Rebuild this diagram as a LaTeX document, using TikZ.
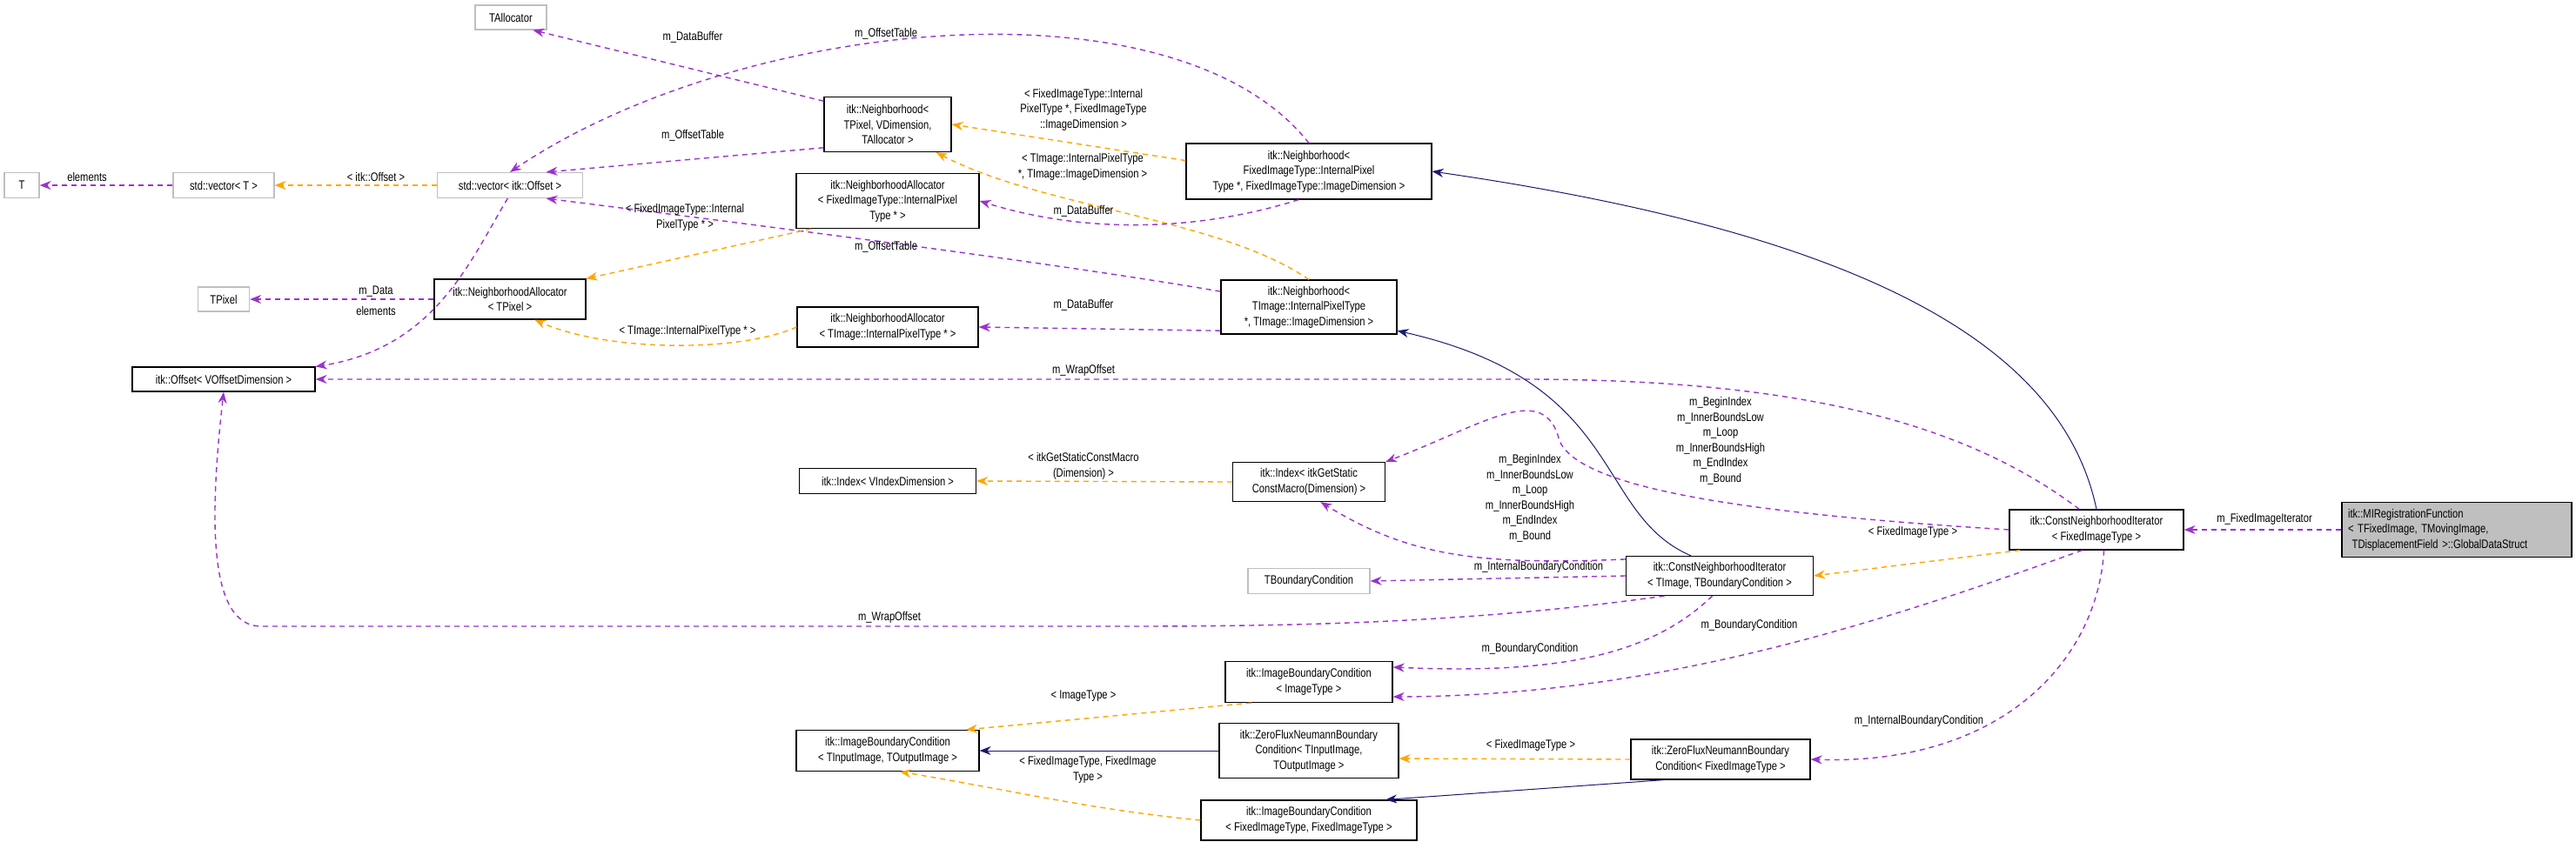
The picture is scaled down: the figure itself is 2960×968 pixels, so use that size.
\documentclass[tikz,border=0pt]{standalone}
\usepackage{fontspec}
\setmainfont{Liberation Sans}[FakeStretch=0.8]
\usetikzlibrary{arrows.meta}
\definecolor{memb}{HTML}{9A32CD}
\definecolor{tmpl}{HTML}{FFA500}
\definecolor{inh}{HTML}{191970}
\tikzset{
  cls/.style={draw=black, line width=1.2pt, align=center, inner sep=0pt, font=\fontsize{14}{17.5}\selectfont},
  ext/.style={cls, draw=black!25},
  top/.style={cls, fill=black!25, align=left},
  lbl/.style={align=center, inner sep=0pt, font=\fontsize{14}{17.5}\selectfont},
  tip/.style={-{Stealth[length=13pt,width=10pt]}},
  member/.style={tip, memb, dashed, dash pattern=on 6pt off 5pt, line width=1.4pt},
  templ/.style={tip, tmpl, dashed, dash pattern=on 6pt off 5pt, line width=1.4pt},
  inherit/.style={tip, inh, line width=1pt},
}
\begin{document}
\begin{tikzpicture}[x=1pt,y=-1pt]
\useasboundingbox (0,0) rectangle (2960,968);

% boxes, left column
\node[ext, minimum width=82pt, minimum height=28pt] (talloc) at (587,20) {TAllocator};
\node[ext, minimum width=40pt, minimum height=29pt] (t) at (25,213) {T};
\node[ext, minimum width=116pt, minimum height=29pt] (vect) at (257,213) {std::vector< T >};
\node[ext, minimum width=167pt, minimum height=29pt] (vecoff) at (586,213) {std::vector< itk::Offset >};
\node[ext, minimum width=59pt, minimum height=28pt] (tpixel) at (257,344) {TPixel};
\node[cls, minimum width=174pt, minimum height=46pt] (natp) at (586,344) {itk::NeighborhoodAllocator\\< TPixel >};
\node[cls, minimum width=210pt, minimum height=28pt] (off) at (257,436) {itk::Offset< VOffsetDimension >};

% boxes, middle columns
\node[cls, minimum width=146pt, minimum height=63pt] (nbtp) at (1020,143) {itk::Neighborhood<\\TPixel, VDimension,\\TAllocator >};
\node[cls, minimum width=210pt, minimum height=63pt] (naf) at (1020,231) {itk::NeighborhoodAllocator\\< FixedImageType::InternalPixel\\Type * >};
\node[cls, minimum width=208pt, minimum height=46pt] (nat) at (1020,376) {itk::NeighborhoodAllocator\\< TImage::InternalPixelType * >};
\node[cls, minimum width=203pt, minimum height=29pt] (idxv) at (1020,553) {itk::Index< VIndexDimension >};
\node[cls, minimum width=210pt, minimum height=47pt] (ibct) at (1020,863) {itk::ImageBoundaryCondition\\< TInputImage, TOutputImage >};
\node[cls, minimum width=282pt, minimum height=64pt] (nbf) at (1504,197) {itk::Neighborhood<\\FixedImageType::InternalPixel\\Type *, FixedImageType::ImageDimension >};
\node[cls, minimum width=202pt, minimum height=62pt] (nbt) at (1504,353) {itk::Neighborhood<\\TImage::InternalPixelType\\*, TImage::ImageDimension >};
\node[cls, minimum width=175pt, minimum height=45pt] (idxs) at (1504,554) {itk::Index< itkGetStatic\\ConstMacro(Dimension) >};
\node[ext, minimum width=140pt, minimum height=29pt] (tbc) at (1504,668) {TBoundaryCondition};
\node[cls, minimum width=192pt, minimum height=47pt] (ibci) at (1504,784) {itk::ImageBoundaryCondition\\< ImageType >};
\node[cls, minimum width=206pt, minimum height=63pt] (zfnt) at (1504,863) {itk::ZeroFluxNeumannBoundary\\Condition< TInputImage,\\TOutputImage >};
\node[cls, minimum width=248pt, minimum height=46pt] (ibcf) at (1504,943) {itk::ImageBoundaryCondition\\< FixedImageType, FixedImageType >};

% boxes, right columns
\node[cls, minimum width=215pt, minimum height=45pt] (cnit) at (1976,662) {itk::ConstNeighborhoodIterator\\< TImage, TBoundaryCondition >};
\node[cls, minimum width=206pt, minimum height=46pt] (zfnf) at (1977,873) {itk::ZeroFluxNeumannBoundary\\Condition< FixedImageType >};
\node[cls, minimum width=200pt, minimum height=46pt] (cnif) at (2409,609) {itk::ConstNeighborhoodIterator\\< FixedImageType >};
\node[top, minimum width=264pt, minimum height=63pt, text width=250pt] (mi) at (2823,609) {itk::MIRegistrationFunction\\< TFixedImage, TMovingImage,\\\ TDisplacementField >::GlobalDataStruct};

% connectors of the iterators
\draw[member] (mi.west) -- (cnif.east);
\draw[inherit] (cnif.north) .. controls (2370,400) and (2150,270) .. (nbf.east);
\draw[member] (cnif.130) .. controls (2250,480) and (2050,436) .. (1750,436) -- (off.east);
\draw[member] (cnif.west) .. controls (2000,590) and (1800,560) .. (1790,500) .. controls (1770,440) and (1700,490) .. (idxs.north east);
\draw[templ] (cnif.195) -- (cnit.east);
\draw[member] (cnif.235) .. controls (2150,720) and (1900,800) .. (ibci.-10);
\draw[member] (cnif.-70) .. controls (2410,760) and (2300,880) .. (zfnf.east);
\draw[inherit] (cnit.145) .. controls (1830,590) and (1870,440) .. (nbt.-15);
\draw[member] (cnit.170) .. controls (1700,650) and (1620,640) .. (idxs.-60);
\draw[member] (cnit.west) -- (tbc.east);
\draw[member] (cnit.200) .. controls (1700,715) and (1500,720) .. (1300,720) -- (300,720) .. controls (240,720) and (240,600) .. (off.south);
\draw[member] (cnit.-110) .. controls (1900,750) and (1800,776) .. (ibci.10);
\draw[templ] (zfnf.west) -- (zfnt.-5);
\draw[inherit] (zfnf.200) -- (ibcf.15);
\draw[inherit] (zfnt.west) -- (ibct.east);
\draw[templ] (ibcf.west) .. controls (1250,930) and (1170,910) .. (ibct.-60);
\draw[templ] (ibci.200) -- (ibct.15);
\draw[templ] (idxs.west) -- (idxv.east);

% connectors of the neighborhoods
\draw[templ] (nbf.175) -- (nbtp.east);
\draw[templ] (nbt.north) .. controls (1400,250) and (1200,240) .. (nbtp.-30);
\draw[member] (nbf.-110) .. controls (1380,265) and (1250,270) .. (naf.east);
\draw[member] (nbf.north) .. controls (1350,-30) and (850,20) .. (vecoff.north);
\draw[member] (nbt.170) .. controls (1200,300) and (800,250) .. (vecoff.-20);
\draw[member] (nbt.195) -- (nat.east);
\draw[member] (nbtp.160) -- (talloc.-30);
\draw[member] (nbtp.200) -- (vecoff.20);
\draw[templ] (naf.200) -- (natp.north east);
\draw[templ] (nat.west) .. controls (850,405) and (700,405) .. (natp.-40);
\draw[member] (natp.west) -- (tpixel.east);
\draw[templ] (vecoff.west) -- (vect.east);
\draw[member] (vecoff.-100) .. controls (540,300) and (500,400) .. (off.north east);
\draw[member] (vect.west) -- (t.east);

% texts on the connectors
\node[lbl] (l1) at (2602,597) {m\_FixedImageIterator};
\node[lbl] (l2) at (1245,426) {m\_WrapOffset};
\node[lbl] (l3) at (1977,507) {m\_BeginIndex\\m\_InnerBoundsLow\\m\_Loop\\m\_InnerBoundsHigh\\m\_EndIndex\\m\_Bound};
\node[lbl] (l4) at (2198,612) {< FixedImageType >};
\node[lbl] (l5) at (2010,719) {m\_BoundaryCondition};
\node[lbl] (l6) at (2205,829) {m\_InternalBoundaryCondition};
\node[lbl] (l7) at (1758,573) {m\_BeginIndex\\m\_InnerBoundsLow\\m\_Loop\\m\_InnerBoundsHigh\\m\_EndIndex\\m\_Bound};
\node[lbl] (l8) at (1768,652) {m\_InternalBoundaryCondition};
\node[lbl] (l9) at (1022,710) {m\_WrapOffset};
\node[lbl] (l10) at (1758,746) {m\_BoundaryCondition};
\node[lbl] (l11) at (1759,857) {< FixedImageType >};
\node[lbl] (l12) at (1250,885) {< FixedImageType, FixedImage\\Type >};
\node[lbl] (l13) at (1245,800) {< ImageType >};
\node[lbl] (l14) at (1245,536) {< itkGetStaticConstMacro\\(Dimension) >};
\node[lbl] (l15) at (1245,126) {< FixedImageType::Internal\\PixelType *, FixedImageType\\::ImageDimension >};
\node[lbl] (l16) at (1244,192) {< TImage::InternalPixelType\\*, TImage::ImageDimension >};
\node[lbl] (l17) at (1245,243) {m\_DataBuffer};
\node[lbl] (l18) at (1018,39) {m\_OffsetTable};
\node[lbl] (l19) at (1018,284) {m\_OffsetTable};
\node[lbl] (l20) at (1245,351) {m\_DataBuffer};
\node[lbl] (l21) at (796,43) {m\_DataBuffer};
\node[lbl] (l22) at (796,156) {m\_OffsetTable};
\node[lbl] (l23) at (787,250) {< FixedImageType::Internal\\PixelType * >};
\node[lbl] (l24) at (790,381) {< TImage::InternalPixelType * >};
\node[lbl] (l25) at (432,335) {m\_Data};
\node[lbl] (l26) at (432,357) {elements};
\node[lbl] (l27) at (432,203) {< itk::Offset >};
\node[lbl] (l28) at (100,203) {elements};
\end{tikzpicture}
\end{document}
